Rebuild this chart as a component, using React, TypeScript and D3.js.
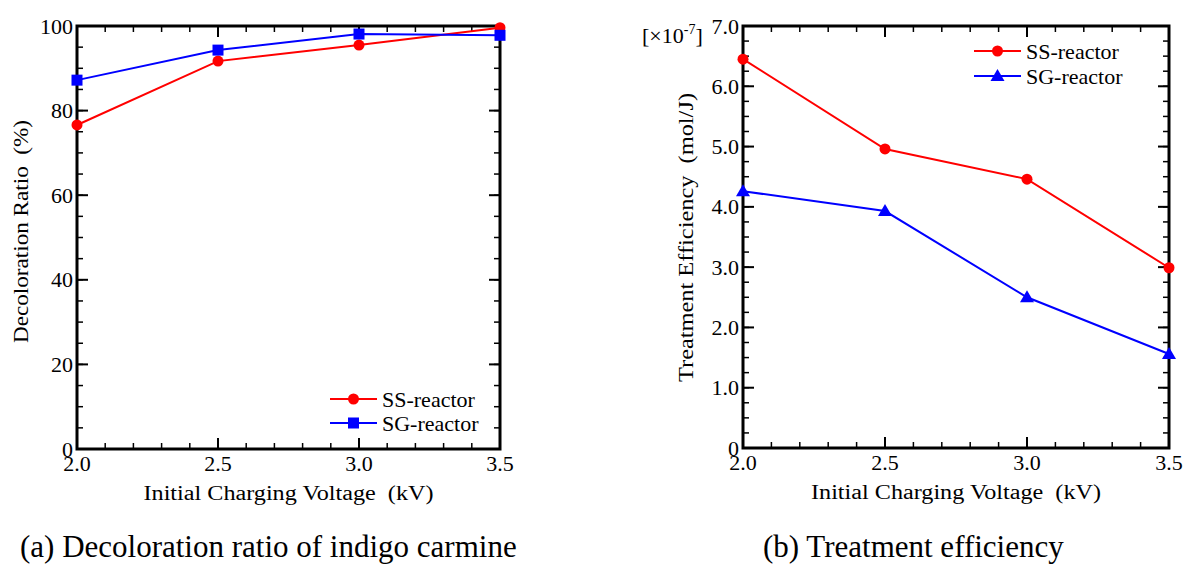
import React from 'react';
import * as d3 from 'd3';

const voltages = [2.0, 2.5, 3.0, 3.5];
const decolorSS = [76.6, 91.7, 95.5, 99.6];
const decolorSG = [87.2, 94.3, 98.1, 97.8];
const efficiencySS = [6.45, 4.96, 4.46, 2.99];
const efficiencySG = [4.26, 3.93, 2.5, 1.56];
const xTicks = [2.0, 2.5, 3.0, 3.5];
const decolorTicks = [0, 20, 40, 60, 80, 100];
const effTicks = [0, 1, 2, 3, 4, 5, 6, 7];

function Marker({ shape, x, y, color }) {
  if (shape === 'circle') return <circle cx={x} cy={y} r={5.5} fill={color} />;
  if (shape === 'square') return <rect x={x - 5.5} y={y - 5.5} width={11} height={11} fill={color} />;
  // triangle
  return <path d={`M${x},${y - 7}L${x + 7},${y + 5}L${x - 7},${y + 5}Z`} fill={color} />;
}

function Panel({ left, right, top, bottom, yMax, yTicks, yMinor, yFmt, series, yTitle, legend, extra }) {
  const x = d3.scaleLinear().domain([2.0, 3.5]).range([left, right]);
  const y = d3.scaleLinear().domain([0, yMax]).range([bottom, top]);
  const xMinor = d3.range(2.0, 3.5001, 0.1);
  const yMinorTicks = d3.range(0, yMax + 0.0001, yMinor);
  const line = d3.line().x((d) => x(d[0])).y((d) => y(d[1]));

  return (
    <g>
      {/* minor ticks, all four sides */}
      {xMinor.map((t, i) => (
        <g key={'xm' + i} stroke="#000" strokeWidth={1.5}>
          <line x1={x(t)} x2={x(t)} y1={bottom} y2={bottom - 6} />
          <line x1={x(t)} x2={x(t)} y1={top} y2={top + 6} />
        </g>
      ))}
      {xTicks.map((t) => (
        <g key={'xM' + t} stroke="#000" strokeWidth={2}>
          <line x1={x(t)} x2={x(t)} y1={bottom} y2={bottom - 11} />
          <line x1={x(t)} x2={x(t)} y1={top} y2={top + 11} />
        </g>
      ))}
      {yMinorTicks.map((t, i) => (
        <g key={'ym' + i} stroke="#000" strokeWidth={1.5}>
          <line x1={left} x2={left + 6} y1={y(t)} y2={y(t)} />
          <line x1={right} x2={right - 6} y1={y(t)} y2={y(t)} />
        </g>
      ))}
      {yTicks.map((t) => (
        <g key={'yM' + t} stroke="#000" strokeWidth={2}>
          <line x1={left} x2={left + 11} y1={y(t)} y2={y(t)} />
          <line x1={right} x2={right - 11} y1={y(t)} y2={y(t)} />
        </g>
      ))}
      <rect x={left} y={top} width={right - left} height={bottom - top} fill="none" stroke="#000" strokeWidth={3} />

      {xTicks.map((t) => (
        <text key={'xl' + t} x={x(t)} y={bottom + 22} textAnchor="middle" fontSize={22}>
          {t.toFixed(1)}
        </text>
      ))}
      {yTicks.map((t) => (
        <text key={'yl' + t} x={left - 4} y={y(t) + 7.5} textAnchor="end" fontSize={22}>
          {yFmt(t)}
        </text>
      ))}

      {series.map((s) => (
        <g key={s.name}>
          <path d={line(voltages.map((v, i) => [v, s.values[i]]))} fill="none" stroke={s.color} strokeWidth={2} />
          {voltages.map((v, i) => (
            <Marker key={i} shape={s.shape} x={x(v)} y={y(s.values[i])} color={s.color} />
          ))}
        </g>
      ))}

      {series.map((s, i) => {
        const ly = legend.y + i * legend.gap;
        return (
          <g key={'lg' + s.name}>
            <line x1={legend.x} x2={legend.x + 47} y1={ly} y2={ly} stroke={s.color} strokeWidth={2} />
            <Marker shape={s.shape} x={legend.x + 23.5} y={ly} color={s.color} />
            <text x={legend.x + 52} y={ly + 7.5} fontSize={22}>
              {s.name}
            </text>
          </g>
        );
      })}

      <text
        x={(left + right) / 2}
        y={bottom + 51}
        textAnchor="middle"
        fontSize={20}
        textLength={290}
        lengthAdjust="spacingAndGlyphs"
      >
        Initial Charging Voltage{'\u00a0\u00a0'}(kV)
      </text>
      <text
        transform={`translate(${yTitle.x},${yTitle.cy}) rotate(-90)`}
        textAnchor="middle"
        fontSize={20}
        textLength={yTitle.len}
        lengthAdjust="spacingAndGlyphs"
      >
        {yTitle.text}
      </text>
      {extra}
    </g>
  );
}

export default function App() {
  return (
    <svg
      width={1184}
      height={566}
      style={{ display: 'block', position: 'absolute', left: 0, top: 0, fontFamily: 'Liberation Serif' }}
    >
      <style>{`text { font-family: 'Liberation Serif', 'Times New Roman', serif; }`}</style>
      <rect width={1184} height={566} fill="#fff" />
      <Panel
        left={77}
        right={500}
        top={26}
        bottom={449}
        yMax={100}
        yTicks={decolorTicks}
        yMinor={5}
        yFmt={(t) => String(t)}
        series={[
          { name: 'SS-reactor', values: decolorSS, color: '#ff0000', shape: 'circle' },
          { name: 'SG-reactor', values: decolorSG, color: '#0000ff', shape: 'square' },
        ]}
        yTitle={{ x: 28, cy: 231.5, len: 223, text: 'Decoloration Ratio\u00a0\u00a0(%)' }}
        legend={{ x: 330, y: 399, gap: 24 }}
      />
      <Panel
        left={743}
        right={1169}
        top={26}
        bottom={448}
        yMax={7}
        yTicks={effTicks}
        yMinor={0.25}
        yFmt={(t) => (t === 0 ? '0' : t.toFixed(1))}
        series={[
          { name: 'SS-reactor', values: efficiencySS, color: '#ff0000', shape: 'circle' },
          { name: 'SG-reactor', values: efficiencySG, color: '#0000ff', shape: 'triangle' },
        ]}
        yTitle={{ x: 693, cy: 237.5, len: 289, text: 'Treatment Efficiency\u00a0\u00a0(mol/J)' }}
        legend={{ x: 974, y: 51, gap: 25 }}
        extra={
          <text x={642} y={43} fontSize={22}>
            [×10<tspan dy={-9} fontSize={14}>-7</tspan>
            <tspan dy={9}>]</tspan>
          </text>
        }
      />
      <text x={20} y={557} fontSize={31}>
        (a) Decoloration ratio of indigo carmine
      </text>
      <text x={763} y={557} fontSize={31}>
        (b) Treatment efficiency
      </text>
    </svg>
  );
}
